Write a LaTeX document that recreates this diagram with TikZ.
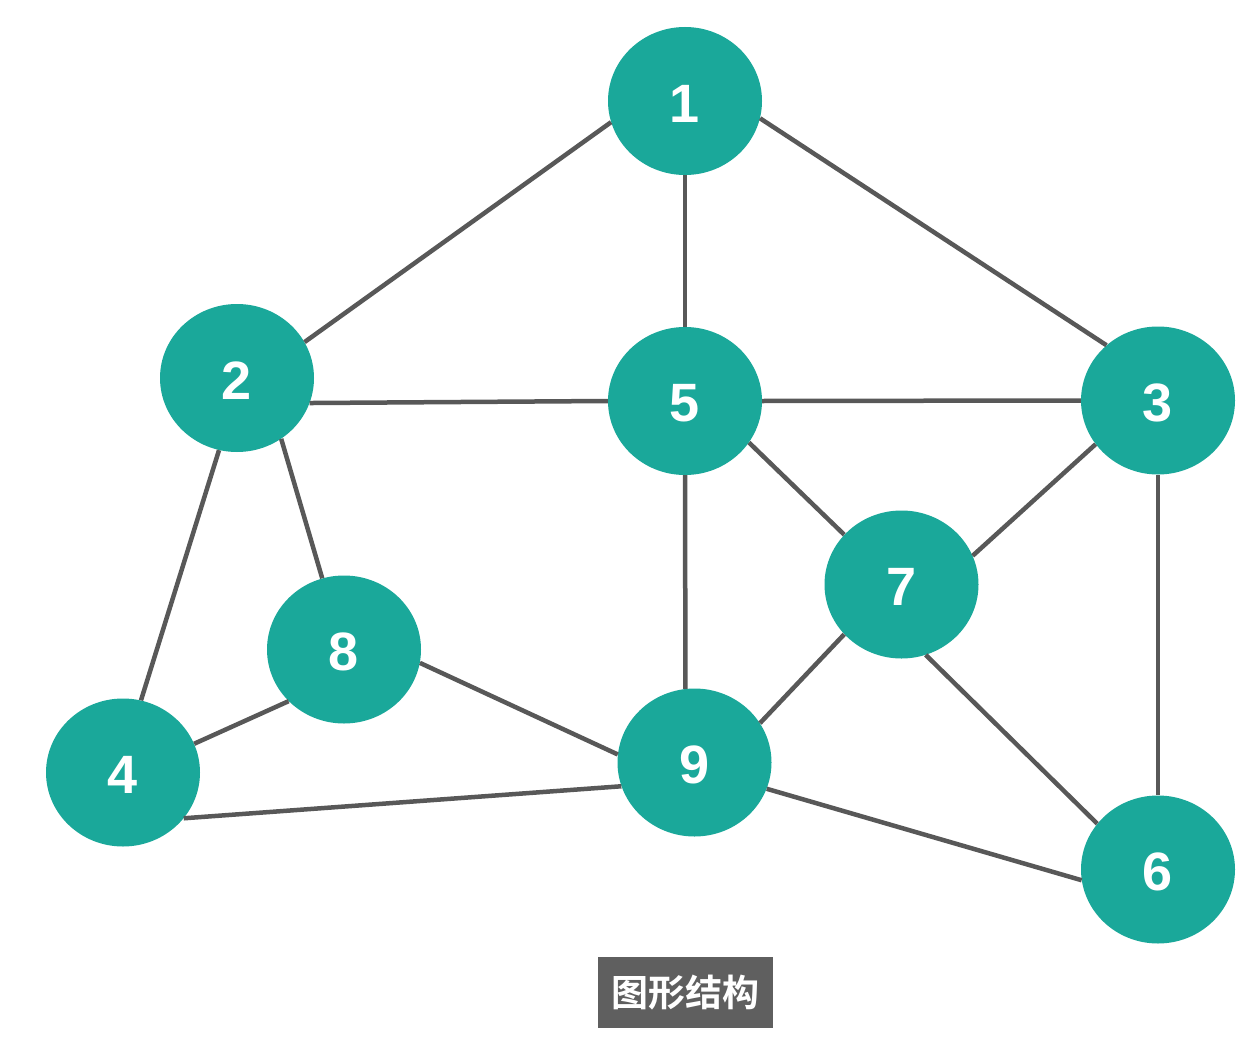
\documentclass[tikz,border=0pt]{standalone}
\usepackage{fontspec}
\setmainfont{Liberation Sans}
\newfontfamily\cjk{Noto Sans CJK SC}[BoldFont={* Bold}]
\usetikzlibrary{shapes.geometric}
\definecolor{teal1}{HTML}{1AA89A}
\definecolor{edgegray}{HTML}{585858}
\definecolor{capgray}{HTML}{5F5F5F}
\tikzset{
  vert/.style={ellipse, fill=teal1, minimum width=154pt, minimum height=148pt, inner sep=0pt,
    text=white, font=\fontsize{54}{54}\selectfont\bfseries},
  numlabel/.style={text=white, font=\fontsize{54}{54}\selectfont\bfseries, inner sep=0pt},
  edge/.style={draw=edgegray, line width=4.5pt},
  caption/.style={fill=capgray, text=white, minimum width=175pt, minimum height=71pt, inner sep=0pt,
    font=\cjk\fontsize{37}{37}\selectfont\bfseries}
}
\begin{document}
\begin{tikzpicture}[x=1pt,y=-1pt]
\useasboundingbox (0,0) rectangle (1250,1038);
\fill[white] (0,0) rectangle (1250,1038);
\node[vert] (n1) at (685,101) {};
\node[vert] (n2) at (237,378) {};
\node[vert] (n5) at (685,401) {};
\node[vert] (n3) at (1158,400.5) {};
\node[vert] (n7) at (901.5,584.5) {};
\node[vert] (n8) at (344,649.5) {};
\node[vert] (n4) at (123,772.5) {};
\node[vert] (n9) at (694.5,762.5) {};
\node[vert] (n6) at (1158,869.5) {};
\node[numlabel] (l1) at ([yshift=-2.5pt]n1.center) {1};
\node[numlabel] (l2) at ([yshift=-2.5pt]n2.center) {2};
\node[numlabel] (l5) at ([yshift=-2.5pt]n5.center) {5};
\node[numlabel] (l3) at ([yshift=-2.5pt]n3.center) {3};
\node[numlabel] (l7) at ([yshift=-2.5pt]n7.center) {7};
\node[numlabel] (l8) at ([yshift=-2.5pt]n8.center) {8};
\node[numlabel] (l4) at ([yshift=-2.5pt]n4.center) {4};
\node[numlabel] (l9) at ([yshift=-2.5pt]n9.center) {9};
\node[numlabel] (l6) at ([yshift=-2.5pt]n6.center) {6};
\path[edge] (n1.196.9) -- (n2.28.2);
\path[edge] (n1.south) -- (n5.north);
\path[edge] (n1.347.6) -- (n3.133.2);
\path[edge] (n2.341.1) -- (n5.180.5);
\path[edge] (n5.east) -- (n3.west);
\path[edge] (n2.256.1) -- (n4.76.3);
\path[edge] (n2.306.6) -- (n8.107.3);
\path[edge] (n5.south) -- (n9.97.3);
\path[edge] (n5.327.3) -- (n7.139.5);
\path[edge] (n3.215.6) -- (n7.22.8);
\path[edge] (n3.south) -- (n6.north);
\path[edge] (n7.221.2) -- (n9.31.6);
\path[edge] (n7.289.8) -- (n6.143.3);
\path[edge] (n8.223.7) -- (n4.22.3);
\path[edge] (n8.350.1) -- (n9.174.2);
\path[edge] (n4.323.4) -- (n9.198.8);
\path[edge] (n9.340.8) -- (n6.188);
\node[caption] (cap) at (685.5,992.5) {图形结构};
\end{tikzpicture}
\end{document}
